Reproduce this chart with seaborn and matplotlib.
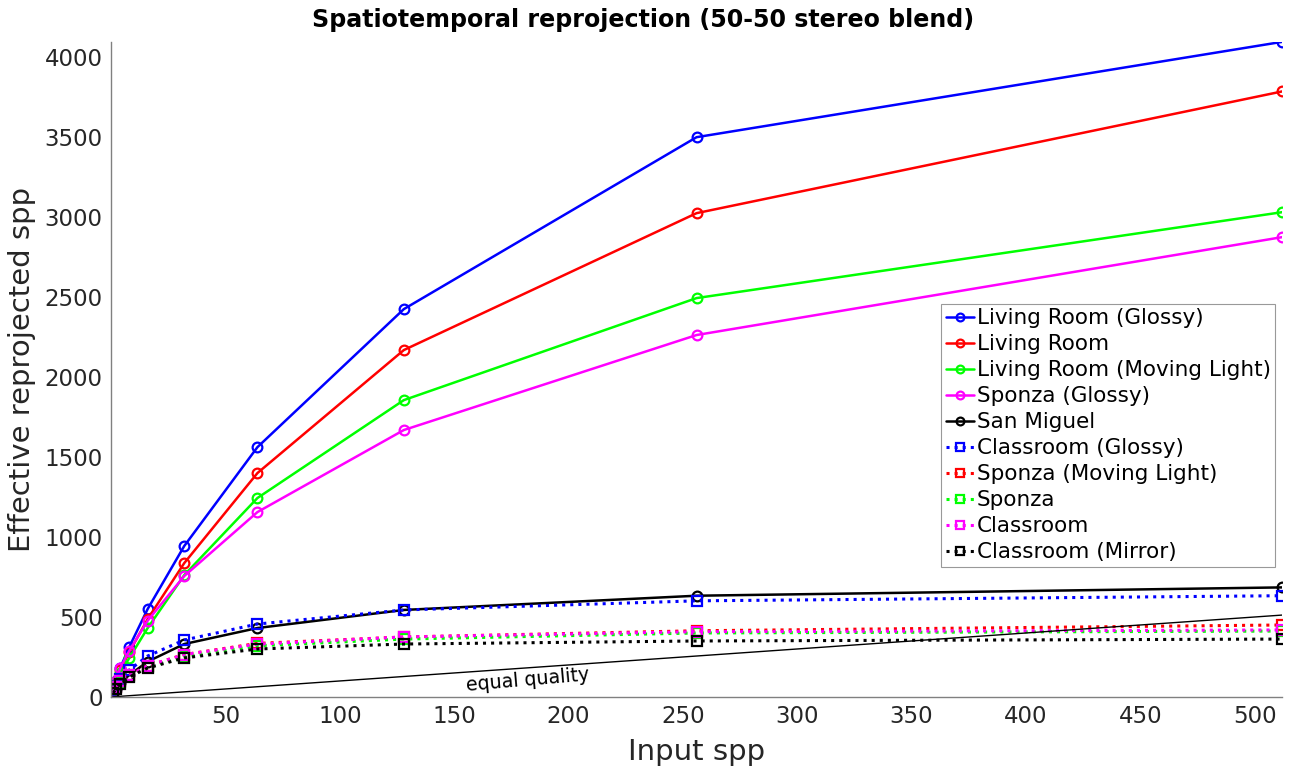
import numpy as np
import pandas as pd
import matplotlib
matplotlib.use("Agg")
import matplotlib.pyplot as plt
import seaborn as sns

# input spp
spp = [1, 2, 4, 8, 16, 32, 64, 128, 256, 512]

living_room_glossy = [45, 100, 180, 314, 550, 944, 1562, 2425, 3500, 4096]
living_room = [40, 90, 170, 281, 487, 837, 1400, 2169, 3025, 3786]
living_room_moving = [35, 80, 150, 244, 431, 762, 1244, 1856, 2494, 3031]
sponza_glossy = [45, 100, 180, 289, 477, 756, 1156, 1669, 2263, 2875]
san_miguel = [25, 50, 90, 137, 221, 331, 431, 544, 633, 685]
classroom_glossy = [40, 70, 110, 169, 256, 356, 456, 544, 601, 633]
sponza_moving = [30, 60, 100, 135, 195, 265, 335, 375, 414, 450]
sponza = [30, 60, 95, 130, 187, 250, 320, 362, 400, 412]
classroom = [30, 60, 100, 135, 195, 265, 330, 375, 408, 419]
classroom_mirror = [25, 50, 80, 125, 181, 244, 300, 331, 350, 362]

series = [
    ("Living Room (Glossy)", living_room_glossy, "#0000ff", "-", "o"),
    ("Living Room", living_room, "#ff0000", "-", "o"),
    ("Living Room (Moving Light)", living_room_moving, "#00ff00", "-", "o"),
    ("Sponza (Glossy)", sponza_glossy, "#ff00ff", "-", "o"),
    ("San Miguel", san_miguel, "#000000", "-", "o"),
    ("Classroom (Glossy)", classroom_glossy, "#0000ff", ":", "s"),
    ("Sponza (Moving Light)", sponza_moving, "#ff0000", ":", "s"),
    ("Sponza", sponza, "#00ff00", ":", "s"),
    ("Classroom", classroom, "#ff00ff", ":", "s"),
    ("Classroom (Mirror)", classroom_mirror, "#000000", ":", "s"),
]

sns.set_style("white")
plt.rcParams['font.family'] = ['DejaVu Sans']

fig = plt.figure(figsize=(12.99, 7.68), dpi=100)
ax = fig.add_axes([0.0855, 0.0925, 0.9015, 0.853])

for name, vals, col, ls, mk in series:
    df = pd.DataFrame({"spp": spp, "val": vals})
    sns.lineplot(data=df, x="spp", y="val", ax=ax, color=col, linestyle=ls,
                 linewidth=1.8 if ls == "-" else 2.2,
                 marker=mk, markersize=7 if mk == "o" else 6.5,
                 markerfacecolor="none", markeredgecolor=col, markeredgewidth=1.6,
                 label=name)

# equal quality reference line
ax.plot([0, spp[-1]], [0, spp[-1]], color="black", linewidth=1.0)
ax.text(182, 104, "equal quality", fontsize=13.7, rotation=5,
        ha="center", va="center", color="black")

ax.set_xlim(0, spp[-1])
ax.set_ylim(0, max(living_room_glossy))
ax.set_xticks([50, 100, 150, 200, 250, 300, 350, 400, 450, 500])
ax.set_yticks([0, 500, 1000, 1500, 2000, 2500, 3000, 3500, 4000])
ax.tick_params(direction="in", length=8.5, width=0.8, labelsize=16.5,
               colors="#262626", pad=6)
for s in ["top", "right"]:
    ax.spines[s].set_visible(False)
for s in ["left", "bottom"]:
    ax.spines[s].set_color("#808080")
    ax.spines[s].set_linewidth(1.0)

ax.set_xlabel("Input spp", fontsize=21, color="#262626", labelpad=7)
ax.set_ylabel("Effective reprojected spp", fontsize=21, color="#262626", labelpad=6)
fig.text(0.495, 0.974, "Spatiotemporal reprojection (50-50 stereo blend)", fontsize=17.1,
         fontweight="bold", color="black", ha="center", va="center")

leg = ax.legend(loc="upper right", bbox_to_anchor=(0.994, 0.600), fontsize=15.5,
                frameon=True, fancybox=False, edgecolor="#808080",
                handlelength=1.3, handletextpad=0.15, labelspacing=0.28,
                borderpad=0.2, borderaxespad=0, markerscale=0.8)
leg.get_frame().set_linewidth(0.8)
for t in leg.get_texts():
    t.set_color("black")

fig.savefig("out.png", dpi=100)
